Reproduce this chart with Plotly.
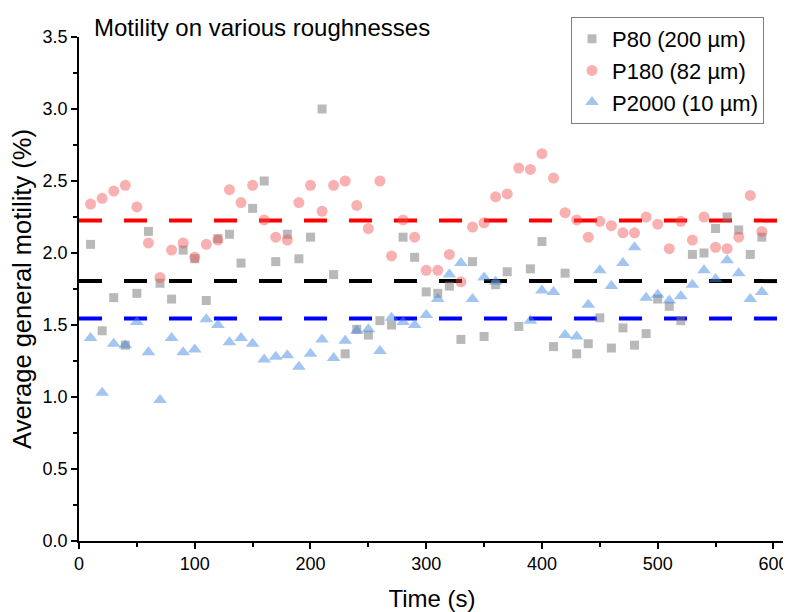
import plotly.graph_objects as go

time_s = [10, 20, 30, 40, 50, 60, 70, 80, 90, 100, 110, 120, 130, 140, 150, 160, 170, 180, 190, 200,
          210, 220, 230, 240, 250, 260, 270, 280, 290, 300, 310, 320, 330, 340, 350, 360, 370, 380, 390, 400,
          410, 420, 430, 440, 450, 460, 470, 480, 490, 500, 510, 520, 530, 540, 550, 560, 570, 580, 590]

p80 = [2.06, 1.46, 1.69, 1.36, 1.72, 2.15, 1.79, 1.68, 2.02, 1.96, 1.67, 2.10, 2.13, 1.93, 2.31, 2.50, 1.94, 2.13, 1.96, 2.11,
       3.00, 1.85, 1.30, 1.47, 1.43, 1.53, 1.50, 2.11, 1.97, 1.73, 1.72, 1.77, 1.40, 1.94, 1.42, 1.78, 1.87, 1.49, 1.89, 2.08,
       1.35, 1.86, 1.30, 1.37, 1.55, 1.34, 1.48, 1.36, 1.44, 1.68, 1.63, 1.53, 1.99, 2.00, 2.17, 2.25, 2.16, 1.99, 2.11]

p180 = [2.34, 2.38, 2.43, 2.47, 2.32, 2.07, 1.83, 2.02, 2.07, 1.97, 2.06, 2.09, 2.44, 2.35, 2.47, 2.23, 2.11, 2.09, 2.35, 2.47,
        2.29, 2.47, 2.50, 2.33, 2.17, 2.50, 1.98, 2.23, 2.11, 1.88, 1.88, 1.99, 1.80, 2.18, 2.21, 2.39, 2.41, 2.59, 2.58, 2.69,
        2.52, 2.28, 2.23, 2.11, 2.22, 2.19, 2.14, 2.14, 2.25, 2.20, 2.03, 2.22, 2.09, 2.25, 2.04, 2.03, 2.11, 2.40, 2.15]

p2000 = [1.41, 1.03, 1.37, 1.36, 1.52, 1.31, 0.98, 1.41, 1.31, 1.33, 1.54, 1.50, 1.38, 1.41, 1.37, 1.26, 1.28, 1.29, 1.21, 1.30,
         1.40, 1.27, 1.39, 1.46, 1.47, 1.32, 1.55, 1.52, 1.50, 1.57, 1.68, 1.85, 1.93, 1.68, 1.83, 1.80, None, None, 1.53, 1.74,
         1.73, 1.43, 1.42, 1.64, 1.88, 1.77, 1.93, 2.04, 1.69, 1.71, 1.67, 1.70, 1.78, 1.88, 1.82, 1.95, 1.86, 1.68, 1.73]

series_names = ["P80 (200 µm)", "P180 (82 µm)", "P2000 (10 µm)"]
mean_values = [1.805, 2.225, 1.545]
mean_x = [0, 605]

x_ticks = [0, 100, 200, 300, 400, 500, 600]
y_ticks = [0.0, 0.5, 1.0, 1.5, 2.0, 2.5, 3.0, 3.5]

FONT = "Liberation Sans, Arial, sans-serif"

# the page body has an 8px default margin; work in figure coordinates
OFF = 8
W, H = 791 - OFF, 612 - OFF
ML = 79 - OFF
MT = 37 - OFF
MR = W - (785 - OFF)
MB = H - (541 - OFF)
plot_w = W - ML - MR
plot_h = H - MT - MB


def px_x(page_x):
    return (page_x - OFF - ML) / plot_w


def px_y(page_y):
    return (H - MB - (page_y - OFF)) / plot_h


fig = go.Figure()

for mv, col in zip(mean_values, ["#000000", "#ff0000", "#0000ff"]):
    fig.add_trace(go.Scatter(x=mean_x, y=[mv, mv], mode="lines",
                             line=dict(color=col, width=4, dash="23px,22px"),
                             showlegend=False, hoverinfo="skip"))

fig.add_trace(go.Scatter(x=time_s, y=p80, mode="markers", name=series_names[0],
                         marker=dict(symbol="square", size=9, color="rgba(128,128,128,0.55)",
                                     line=dict(width=0))))
fig.add_trace(go.Scatter(x=time_s, y=p180, mode="markers", name=series_names[1],
                         marker=dict(symbol="circle", size=11, color="rgba(240,80,80,0.45)",
                                     line=dict(width=0))))
fig.add_trace(go.Scatter(x=time_s, y=p2000, mode="markers", name=series_names[2],
                         marker=dict(symbol="triangle-up", size=12, color="rgba(70,140,230,0.5)",
                                     line=dict(width=0))))

fig.update_layout(
    width=W, height=H,
    margin=dict(l=ML, r=MR, t=MT, b=MB, autoexpand=False),
    paper_bgcolor="white", plot_bgcolor="white",
    font=dict(family=FONT, color="black", size=18),
    showlegend=True,
    legend=dict(x=px_x(764), y=px_y(17), xanchor="right", yanchor="top",
                bordercolor="#7f7f7f", borderwidth=1, bgcolor="white",
                font=dict(family=FONT, size=22), itemsizing="trace",
                tracegroupgap=0),
    annotations=[dict(text="Motility on various roughnesses",
                      x=px_x(92), y=px_y(27),
                      xref="paper", yref="paper", showarrow=False,
                      xanchor="left", yanchor="middle",
                      font=dict(family=FONT, size=24, color="black"))],
)

fig.update_xaxes(range=[0, 610], tickvals=x_ticks, ticktext=[str(v) for v in x_ticks],
                 automargin=False,
                 showline=True, linecolor="black", linewidth=1.5, mirror=False,
                 ticks="outside", ticklen=6, tickwidth=1.5, tickcolor="black",
                 minor=dict(dtick=50, tick0=0, ticks="outside", ticklen=4, tickwidth=1.5, tickcolor="black"),
                 showgrid=False, zeroline=False,
                 title=dict(text="Time (s)", font=dict(family=FONT, size=24), standoff=17),
                 tickfont=dict(family=FONT, size=18))
fig.update_yaxes(range=[0, 3.5], tickvals=y_ticks, ticktext=[f"{v:.1f}" for v in y_ticks],
                 automargin=False,
                 showline=True, linecolor="black", linewidth=1.5, mirror=False,
                 ticks="outside", ticklen=6, tickwidth=1.5, tickcolor="black",
                 minor=dict(dtick=0.25, tick0=0, ticks="outside", ticklen=4, tickwidth=1.5, tickcolor="black"),
                 showgrid=False, zeroline=False,
                 title=dict(text="Average general motility (%)", font=dict(family=FONT, size=25.5), standoff=5),
                 tickfont=dict(family=FONT, size=18))

fig.write_html("out.html")
